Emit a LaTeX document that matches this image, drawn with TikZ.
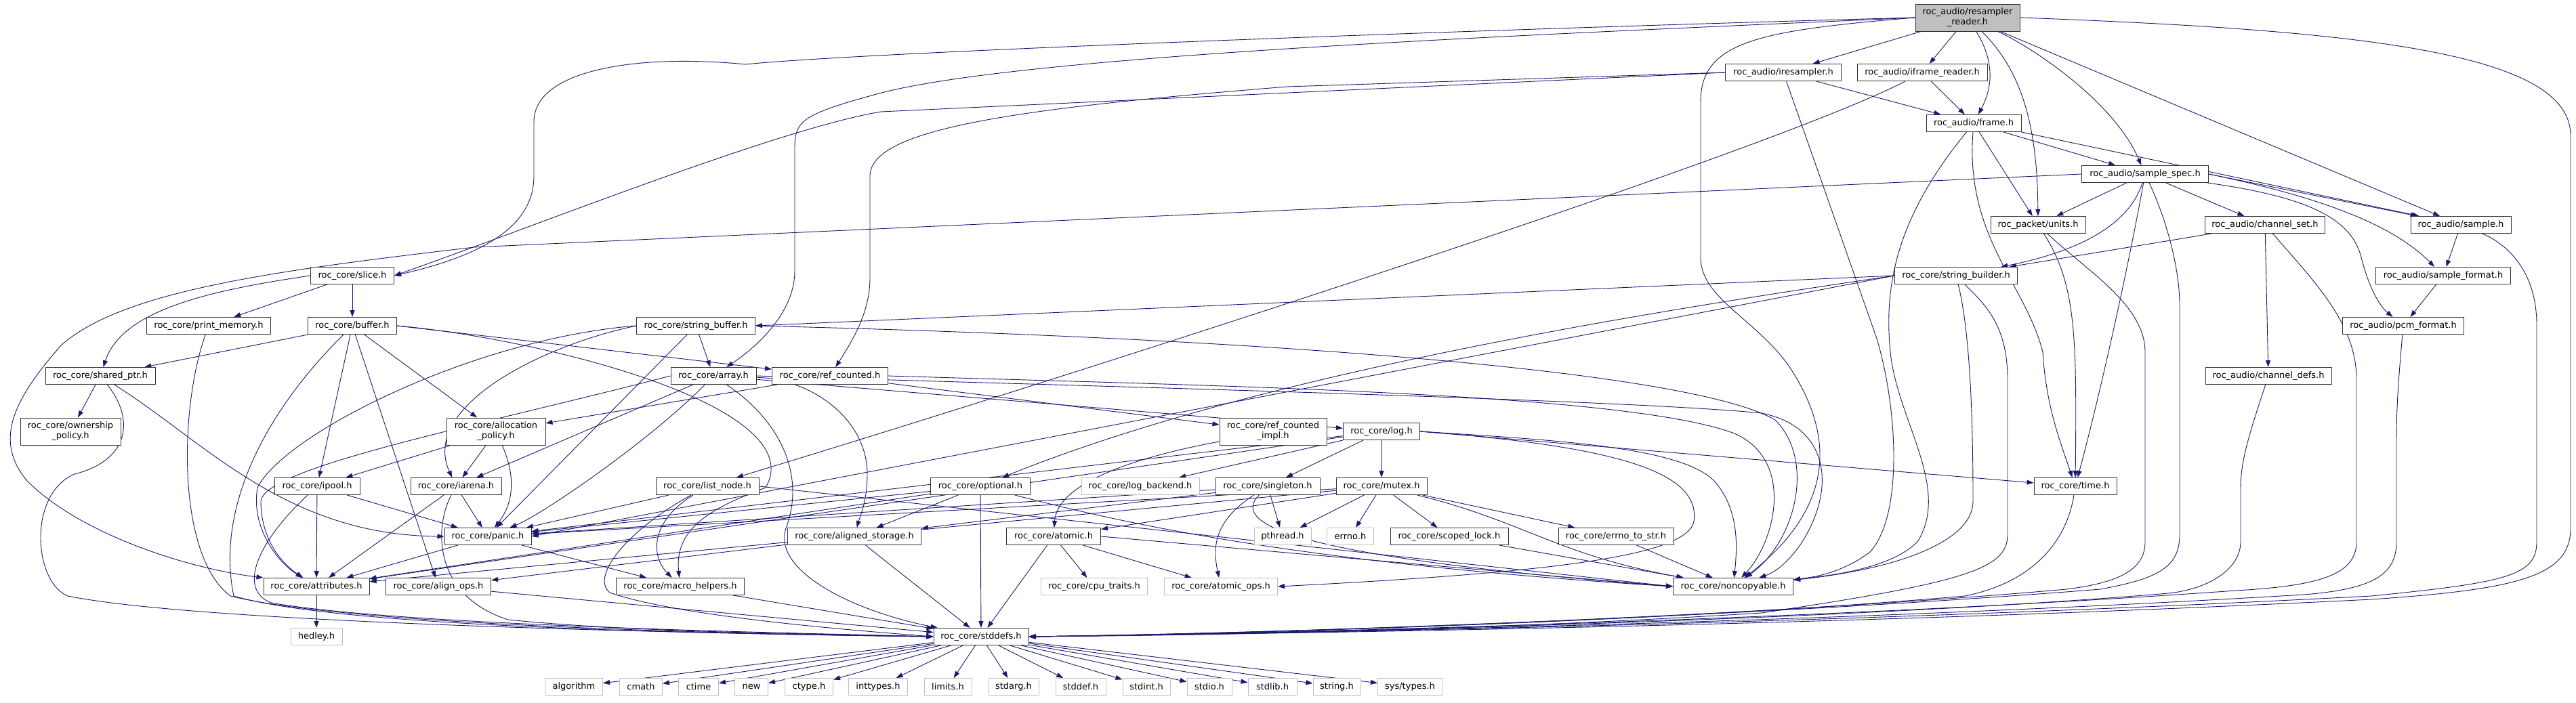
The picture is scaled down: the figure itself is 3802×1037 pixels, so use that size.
\documentclass[tikz,border=0pt]{standalone}
\usepackage{fontspec}
\setmainfont{DejaVu Sans}
\usetikzlibrary{arrows.meta,backgrounds}
\definecolor{edgeblue}{RGB}{25,25,112}

\begin{document}
\begin{tikzpicture}[
            x=1pt, y=-1pt,
            box/.style={draw=black!80, fill=white, line width=1pt, minimum height=25pt, inner xsep=6pt, inner ysep=0pt, align=center, font=\fontsize{13}{15}\selectfont},
            sysbox/.style={box, draw=black!25},
            tallbox/.style={box, minimum height=40pt},
            dep/.style={->, color=edgeblue, line width=0.9pt},
            >={Stealth[length=10pt, width=7pt, inset=0pt]}
        ]
        \useasboundingbox (0,0) rectangle (3802,1037);

        \node[tallbox, fill=black!25, minimum width=154pt] (rr) at (2904,26) {roc\_audio/resampler\\\_reader.h};
        \node[box, minimum width=171pt] (ires) at (2632,107) {roc\_audio/iresampler.h};
        \node[box, minimum width=192pt] (ifr) at (2837,107) {roc\_audio/iframe\_reader.h};
        \node[box, minimum width=140pt] (frame) at (2913,182) {roc\_audio/frame.h};
        \node[box, minimum width=187pt] (sspec) at (3166,257) {roc\_audio/sample\_spec.h};
        \node[box, minimum width=140pt] (units) at (3008,332) {roc\_packet/units.h};
        \node[box, minimum width=177pt] (chset) at (3343,332) {roc\_audio/channel\_set.h};
        \node[box, minimum width=148pt] (sample) at (3632,332) {roc\_audio/sample.h};
        \node[box, minimum width=123pt] (slice) at (520,407) {roc\_core/slice.h};
        \node[box, minimum width=181pt] (strbld) at (2887,407) {roc\_core/string\_builder.h};
        \node[box, minimum width=199pt] (sfmt) at (3606,407) {roc\_audio/sample\_format.h};
        \node[box, minimum width=183pt] (pmem) at (308,481) {roc\_core/print\_memory.h};
        \node[box, minimum width=131pt] (buffer) at (520,481) {roc\_core/buffer.h};
        \node[box, minimum width=175pt] (strbuf) at (1027,481) {roc\_core/string\_buffer.h};
        \node[box, minimum width=179pt] (pcm) at (3547,481) {roc\_audio/pcm\_format.h};
        \node[box, minimum width=162pt] (sptr) at (148,555) {roc\_core/shared\_ptr.h};
        \node[box, minimum width=126pt] (array) at (1053,555) {roc\_core/array.h};
        \node[box, minimum width=171pt] (refc) at (1225,555) {roc\_core/ref\_counted.h};
        \node[box, minimum width=186pt] (chdefs) at (3348,555) {roc\_audio/channel\_defs.h};
        \node[tallbox, minimum width=148pt] (owner) at (104,637) {roc\_core/ownership\\\_policy.h};
        \node[tallbox, minimum width=146pt] (alloc) at (732,637) {roc\_core/allocation\\\_policy.h};
        \node[tallbox, minimum width=158pt] (rcimpl) at (1879,637) {roc\_core/ref\_counted\\\_impl.h};
        \node[box, minimum width=113pt] (log) at (2039,637) {roc\_core/log.h};
        \node[box, minimum width=126pt] (ipool) at (468,718) {roc\_core/ipool.h};
        \node[box, minimum width=134pt] (iarena) at (673,718) {roc\_core/iarena.h};
        \node[box, minimum width=152pt] (lnode) at (1044,718) {roc\_core/list\_node.h};
        \node[box, minimum width=147pt] (optional) at (1447,718) {roc\_core/optional.h};
        \node[sysbox, minimum width=174pt] (logbk) at (1683,718) {roc\_core/log\_backend.h};
        \node[box, minimum width=154pt] (singleton) at (1871,718) {roc\_core/singleton.h};
        \node[box, minimum width=134pt] (mutex) at (2039,718) {roc\_core/mutex.h};
        \node[box, minimum width=122pt] (time) at (3063,718) {roc\_core/time.h};
        \node[box, minimum width=128pt] (panic) at (720,792) {roc\_core/panic.h};
        \node[box, minimum width=197pt] (alstor) at (1261,792) {roc\_core/aligned\_storage.h};
        \node[box, minimum width=139pt] (atomic) at (1555,792) {roc\_core/atomic.h};
        \node[sysbox, minimum width=84pt] (pthread) at (1893,792) {pthread.h};
        \node[sysbox, minimum width=69pt] (errno) at (1993,792) {errno.h};
        \node[box, minimum width=174pt] (scoped) at (2139,792) {roc\_core/scoped\_lock.h};
        \node[box, minimum width=170pt] (errstr) at (2385,792) {roc\_core/errno\_to\_str.h};
        \node[box, minimum width=156pt] (attr) at (467,866) {roc\_core/attributes.h};
        \node[box, minimum width=155pt] (alops) at (647,866) {roc\_core/align\_ops.h};
        \node[box, minimum width=189pt] (macro) at (1004,866) {roc\_core/macro\_helpers.h};
        \node[sysbox, minimum width=157pt] (cpu) at (1615,866) {roc\_core/cpu\_traits.h};
        \node[sysbox, minimum width=167pt] (atops) at (1802,866) {roc\_core/atomic\_ops.h};
        \node[box, minimum width=177pt] (noncopy) at (2558,866) {roc\_core/noncopyable.h};
        \node[sysbox, minimum width=76pt] (hedley) at (467,940) {hedley.h};
        \node[box, minimum width=140pt] (stddefs) at (1448,940) {roc\_core/stddefs.h};
        \node[sysbox, minimum width=85pt] (algorithm) at (847,1014) {algorithm};
        \node[sysbox, minimum width=63pt] (cmath) at (946,1014) {cmath};
        \node[sysbox, minimum width=59pt] (ctime) at (1031,1014) {ctime};
        \node[sysbox, minimum width=49pt] (new) at (1109,1014) {new};
        \node[sysbox, minimum width=71pt] (ctype) at (1194,1014) {ctype.h};
        \node[sysbox, minimum width=87pt] (inttypes) at (1296,1014) {inttypes.h};
        \node[sysbox, minimum width=70pt] (limits) at (1399,1014) {limits.h};
        \node[sysbox, minimum width=74pt] (stdarg) at (1496,1014) {stdarg.h};
        \node[sysbox, minimum width=74pt] (stddef) at (1595,1014) {stddef.h};
        \node[sysbox, minimum width=70pt] (stdint) at (1692,1014) {stdint.h};
        \node[sysbox, minimum width=66pt] (stdio) at (1785,1014) {stdio.h};
        \node[sysbox, minimum width=72pt] (stdlib) at (1878,1014) {stdlib.h};
        \node[sysbox, minimum width=70pt] (string) at (1973,1014) {string.h};
        \node[sysbox, minimum width=95pt] (systypes) at (2081,1014) {sys/types.h};

        \begin{scope}[on background layer]
        \draw[dep] (rr) -- (ires);
        \draw[dep] (rr) -- (ifr);
        \draw[dep] (rr) .. controls (2950,100) and (2935,140) .. (frame);
        \draw[dep] (rr) .. controls (2990,110) and (3007,200) .. (units);
        \draw[dep] (rr) .. controls (3000,70) and (3120,150) .. (sspec);
        \draw[dep] (rr) -- (sample);
        \draw[dep] (rr.east) .. controls (3500,45) and (3794,80) .. (3794,200) -- (3794,780) .. controls (3794,850) and (3720,870) .. (3500,885) .. controls (2700,925) and (1900,935) .. (stddefs.east);
        \draw[dep] (rr.west) .. controls (2300,40) and (1300,75) .. (1100,95) .. controls (950,80) and (788,100) .. (788,180) -- (788,260) .. controls (788,340) and (700,380) .. (slice.east);
        \draw[dep] (rr.west) .. controls (2300,50) and (1500,80) .. (1290,140) .. controls (1180,170) and (1173,180) .. (1173,220) -- (1173,400) .. controls (1173,460) and (1120,510) .. (array);
        \draw[dep] (rr.west) .. controls (2600,45) and (2510,60) .. (2510,150) -- (2510,380) .. controls (2510,440) and (2590,470) .. (2640,540) .. controls (2700,630) and (2720,740) .. (noncopy);

        \draw[dep] (ires) -- (frame);
        \draw[dep] (ires.west) -- (1300,165) .. controls (1150,190) and (800,330) .. (slice.east);
        \draw[dep] (ires.west) -- (1900,128) .. controls (1500,160) and (1284,190) .. (1284,260) -- (1284,410) .. controls (1284,460) and (1260,500) .. (refc);
        \draw[dep] (ires) -- (2770,500) .. controls (2800,600) and (2810,760) .. (2760,815) .. controls (2720,845) and (2680,852) .. (noncopy);
        \draw[dep] (ifr) -- (frame);
        \draw[dep] (ifr) .. controls (2600,230) and (1500,580) .. (lnode);

        \draw[dep] (frame) -- (sspec);
        \draw[dep] (frame.south east) -- (sample);
        \draw[dep] (frame) -- (units);
        \draw[dep] (frame) .. controls (2900,350) and (2990,420) .. (3015,520) .. controls (3020,600) and (3040,650) .. (time);
        \draw[dep] (frame) .. controls (2800,320) and (2780,420) .. (2790,520) .. controls (2800,620) and (2880,720) .. (2830,800) .. controls (2790,840) and (2700,850) .. (noncopy);

        \draw[dep] (sspec) -- (chset);
        \draw[dep] (sspec.east) -- (sample);
        \draw[dep] (sspec.east) .. controls (3420,290) and (3530,330) .. (sfmt);
        \draw[dep] (sspec) .. controls (3400,290) and (3470,320) .. (3485,380) .. controls (3495,420) and (3510,450) .. (pcm);
        \draw[dep] (sspec) -- (units);
        \draw[dep] (sspec) .. controls (3140,340) and (3050,375) .. (strbld);
        \draw[dep] (sspec) .. controls (3140,400) and (3100,580) .. (time);
        \draw[dep] (sspec) .. controls (3200,330) and (3217,400) .. (3217,450) -- (3217,790) .. controls (3217,840) and (3180,855) .. (3100,870) .. controls (2600,910) and (1900,935) .. (stddefs.east);
        \draw[dep] (sspec.west) -- (700,365) .. controls (400,400) and (180,430) .. (90,510) .. controls (20,590) and (-10,650) .. (40,710) .. controls (120,790) and (280,840) .. (attr.north west);

        \draw[dep] (units) .. controls (3065,420) and (3065,500) .. (time);
        \draw[dep] (units) .. controls (3080,400) and (3166,450) .. (3166,520) -- (3166,800) .. controls (3166,840) and (3130,860) .. (3050,870) .. controls (2600,910) and (1900,935) .. (stddefs.east);
        \draw[dep] (chset) -- (chdefs);
        \draw[dep] (chset) -- (strbld);
        \draw[dep] (chset) .. controls (3420,420) and (3478,480) .. (3478,560) -- (3478,800) .. controls (3478,850) and (3420,865) .. (3300,872) .. controls (2700,915) and (1900,935) .. (stddefs.east);
        \draw[dep] (sample) -- (sfmt);
        \draw[dep] (sample) .. controls (3700,360) and (3744,400) .. (3744,480) -- (3744,800) .. controls (3744,850) and (3700,860) .. (3500,880) .. controls (2700,922) and (1900,935) .. (stddefs.east);
        \draw[dep] (sfmt) -- (pcm);
        \draw[dep] (pcm) .. controls (3540,560) and (3537,600) .. (3537,650) -- (3537,800) .. controls (3537,850) and (3500,870) .. (3400,878) .. controls (2700,920) and (1900,935) .. (stddefs.east);
        \draw[dep] (chdefs) .. controls (3320,640) and (3307,680) .. (3307,720) -- (3307,800) .. controls (3307,840) and (3260,870) .. (3200,876) .. controls (2700,918) and (1900,935) .. (stddefs.east);
        \draw[dep] (time) .. controls (3050,800) and (3000,860) .. (2900,880) .. controls (2500,915) and (1900,935) .. (stddefs.east);

        \draw[dep] (strbld.west) -- (strbuf.east);
        \draw[dep] (strbld) .. controls (2910,500) and (2912,650) .. (2912,740) .. controls (2912,800) and (2800,840) .. (noncopy);
        \draw[dep] (strbld) .. controls (2930,450) and (2963,480) .. (2963,560) -- (2963,790) .. controls (2963,840) and (2900,860) .. (2600,905) .. controls (2200,930) and (1800,938) .. (stddefs.east);
        \draw[dep] (strbld.west) .. controls (2400,465) and (1850,555) .. (optional);
        \draw[dep] (strbld.west) -- (panic.east);

        \draw[dep] (slice) -- (buffer);
        \draw[dep] (slice) -- (pmem);
        \draw[dep] (slice.west) .. controls (300,430) and (180,460) .. (sptr);
        \draw[dep] (pmem) .. controls (265,600) and (260,820) .. (340,880) .. controls (500,920) and (1000,935) .. (stddefs.west);

        \draw[dep] (buffer) -- (sptr);
        \draw[dep] (buffer) -- (ipool);
        \draw[dep] (buffer) -- (alops);
        \draw[dep] (buffer) -- (alloc);
        \draw[dep] (buffer.east) -- (refc);
        \draw[dep] (buffer.east) .. controls (800,500) and (1200,600) .. (1130,720) .. controls (1050,750) and (995,780) .. (macro);
        \draw[dep] (buffer) .. controls (380,620) and (320,760) .. (345,880) .. controls (500,925) and (1000,935) .. (stddefs.west);

        \draw[dep] (sptr) -- (owner);
        \draw[dep] (sptr) .. controls (200,620) and (190,680) .. (110,700) .. controls (40,730) and (50,860) .. (100,880) .. controls (300,920) and (1000,935) .. (stddefs.west);
        \draw[dep] (sptr) .. controls (300,650) and (420,790) .. (panic.west);

        \draw[dep] (strbuf) -- (array);
        \draw[dep] (strbuf.west) .. controls (800,510) and (620,600) .. (iarena);
        \draw[dep] (strbuf.west) .. controls (700,500) and (420,640) .. (380,720) .. controls (370,780) and (410,830) .. (attr);
        \draw[dep] (strbuf) -- (panic);
        \draw[dep] (strbuf.east) .. controls (1900,500) and (2500,550) .. (2620,620) .. controls (2680,680) and (2650,800) .. (noncopy);

        \draw[dep] (array) -- (iarena);
        \draw[dep] (array.west) .. controls (700,630) and (390,690) .. (385,740) .. controls (385,800) and (420,835) .. (attr);
        \draw[dep] (array) .. controls (960,650) and (800,760) .. (panic);
        \draw[dep] (array) .. controls (1200,560) and (1280,620) .. (1280,700) .. controls (1280,740) and (1270,760) .. (alstor);
        \draw[dep] (array) -- (log);
        \draw[dep] (array.east) .. controls (1600,570) and (2400,590) .. (2600,610) .. controls (2700,630) and (2710,720) .. (2660,800) .. controls (2640,830) and (2620,845) .. (noncopy);
        \draw[dep] (array) .. controls (1150,620) and (1190,700) .. (1160,780) .. controls (1140,840) and (1250,900) .. (stddefs);

        \draw[dep] (refc) -- (rcimpl);
        \draw[dep] (refc) -- (alloc);
        \draw[dep] (refc.east) .. controls (1800,570) and (2400,580) .. (2560,640) .. controls (2650,680) and (2620,800) .. (noncopy);
        \draw[dep] (rcimpl) .. controls (1650,680) and (1560,720) .. (atomic);

        \draw[dep] (alloc) -- (iarena);
        \draw[dep] (alloc) -- (ipool);
        \draw[dep] (alloc) .. controls (760,700) and (760,740) .. (panic);

        \draw[dep] (log) -- (logbk);
        \draw[dep] (log) -- (singleton);
        \draw[dep] (log) -- (mutex);
        \draw[dep] (log.east) -- (time);
        \draw[dep] (log.east) .. controls (2300,650) and (2480,660) .. (2530,710) .. controls (2565,750) and (2565,800) .. (noncopy);
        \draw[dep] (log.east) .. controls (2400,660) and (2510,700) .. (2500,770) .. controls (2490,820) and (2300,845) .. (atops.east);
        \draw[dep] (log) -- (attr);
        \draw[dep] (log) -- (panic);

        \draw[dep] (ipool) -- (attr);
        \draw[dep] (ipool) -- (panic);
        \draw[dep] (ipool) .. controls (380,800) and (350,870) .. (400,890) .. controls (600,925) and (1200,935) .. (stddefs.west);
        \draw[dep] (iarena) -- (panic);
        \draw[dep] (iarena) -- (attr);
        \draw[dep] (iarena) .. controls (640,780) and (640,880) .. (750,915) .. controls (950,935) and (1200,935) .. (stddefs.west);

        \draw[dep] (lnode) -- (panic);
        \draw[dep] (lnode.east) -- (noncopy.west);
        \draw[dep] (lnode) .. controls (960,770) and (960,820) .. (macro);
        \draw[dep] (lnode) .. controls (930,780) and (870,850) .. (900,875) .. controls (1000,910) and (1250,930) .. (stddefs.west);

        \draw[dep] (optional) -- (alstor);
        \draw[dep] (optional) -- (stddefs);
        \draw[dep] (optional) -- (panic);
        \draw[dep] (optional) -- (attr);
        \draw[dep] (optional) .. controls (1650,770) and (1900,830) .. (noncopy.west);

        \draw[dep] (singleton) -- (pthread);
        \draw[dep] (singleton) .. controls (1790,770) and (1790,810) .. (atops);
        \draw[dep] (singleton) .. controls (1820,770) and (1880,820) .. (noncopy.west);
        \draw[dep] (singleton) -- (panic);
        \draw[dep] (singleton) -- (alstor);

        \draw[dep] (mutex) -- (pthread);
        \draw[dep] (mutex) -- (errno);
        \draw[dep] (mutex) -- (scoped);
        \draw[dep] (mutex) -- (errstr);
        \draw[dep] (mutex) .. controls (2250,770) and (2300,820) .. (noncopy);
        \draw[dep] (mutex) -- (atomic);
        \draw[dep] (mutex) -- (attr);
        \draw[dep] (mutex) -- (panic);

        \draw[dep] (panic) -- (attr);
        \draw[dep] (panic) -- (macro);
        \draw[dep] (alstor) -- (stddefs);
        \draw[dep] (alstor) -- (alops);
        \draw[dep] (atomic) -- (stddefs);
        \draw[dep] (atomic) -- (cpu);
        \draw[dep] (atomic) -- (atops);
        \draw[dep] (atomic.east) -- (noncopy.west);
        \draw[dep] (scoped) -- (noncopy);
        \draw[dep] (errstr) -- (noncopy);
        \draw[dep] (alops) -- (stddefs);
        \draw[dep] (macro) -- (stddefs);
        \draw[dep] (attr) -- (hedley);

        \draw[dep] (stddefs) -- (algorithm);
        \draw[dep] (stddefs) -- (cmath);
        \draw[dep] (stddefs) -- (ctime);
        \draw[dep] (stddefs) -- (new);
        \draw[dep] (stddefs) -- (ctype);
        \draw[dep] (stddefs) -- (inttypes);
        \draw[dep] (stddefs) -- (limits);
        \draw[dep] (stddefs) -- (stdarg);
        \draw[dep] (stddefs) -- (stddef);
        \draw[dep] (stddefs) -- (stdint);
        \draw[dep] (stddefs) -- (stdio);
        \draw[dep] (stddefs) -- (stdlib);
        \draw[dep] (stddefs) -- (string);
        \draw[dep] (stddefs) -- (systypes);
        \end{scope}
    \end{tikzpicture}
\end{document}
